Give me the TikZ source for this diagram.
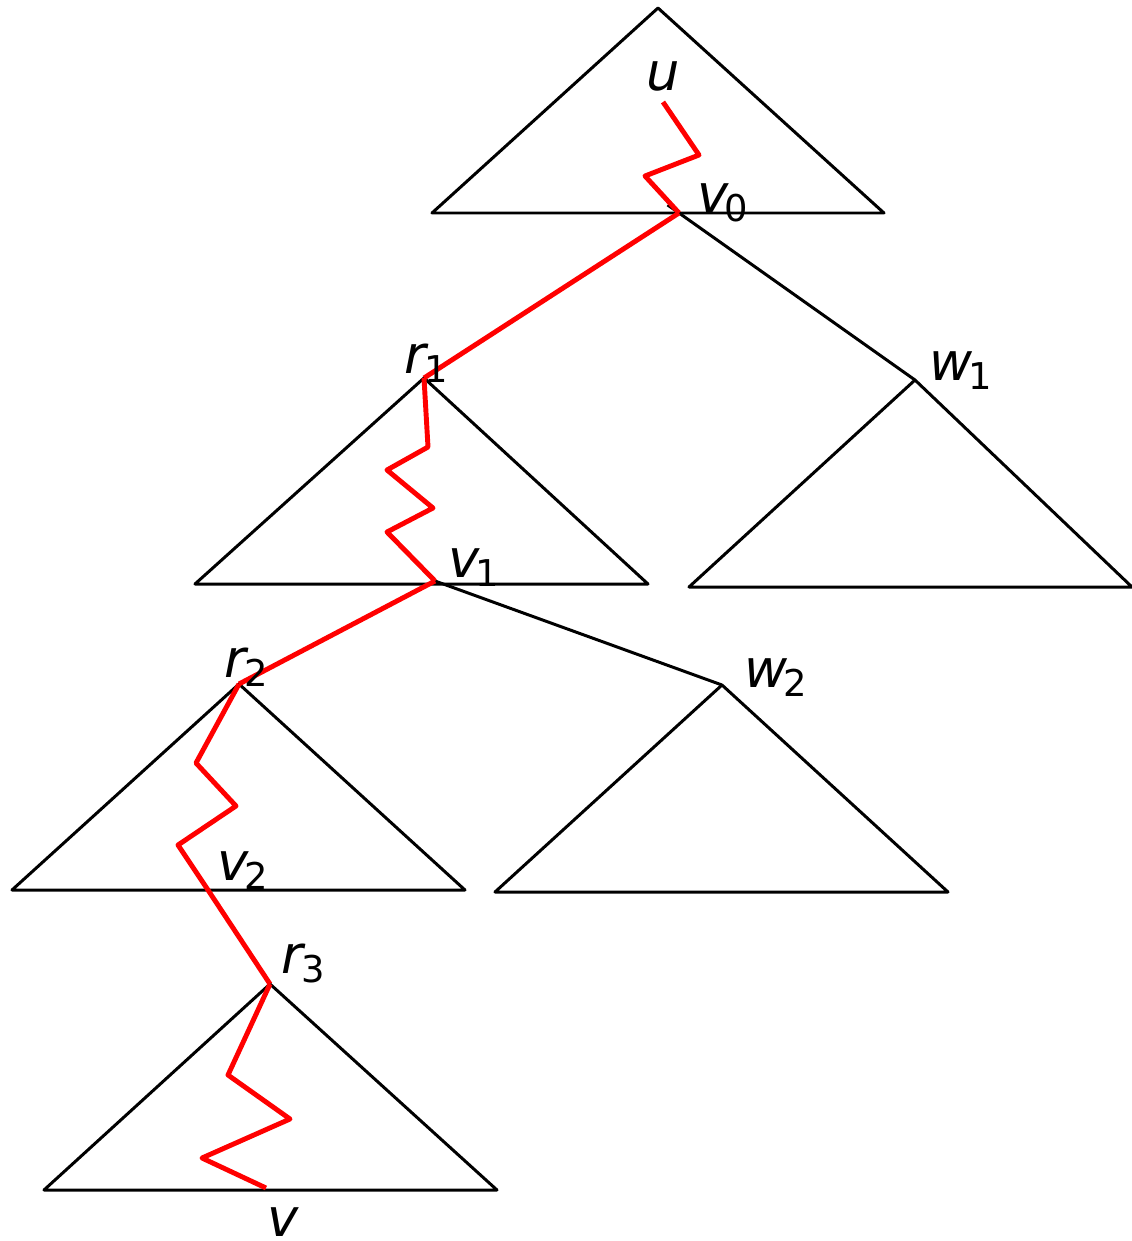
\documentclass[tikz,border=0pt]{standalone}
\usepackage{fontspec}
\setmainfont{DejaVu Sans}
\newcommand{\lbl}[2]{\textit{#1}\kern-0.08em\raisebox{-0.18em}{\fontsize{21}{21}\selectfont #2}}
\begin{document}
\begin{tikzpicture}[x = 0.02cm, y = -0.02cm, tri/.style={draw, line width=1.7pt, line join=round}, edge/.style={draw, line width=1.7pt}, walk/.style={draw=red, line width=2.8pt, line join=round}, lab/.style={anchor=base west, inner sep=0pt, font=\fontsize{30}{34}\selectfont}]
        \useasboundingbox (0, 0) rectangle (1132, 1241);

        % subtree roots
        \coordinate (t0) at (658, 8);
        \coordinate (v0) at (679, 213);
        \coordinate (r1) at (424, 378);
        \coordinate (v1) at (435, 581);
        \coordinate (w1) at (915, 380);
        \coordinate (r2) at (239, 684);
        \coordinate (w2) at (722, 685);
        \coordinate (v2) at (208, 890);
        \coordinate (r3) at (270, 984);
        \coordinate (v) at (266, 1188);
        \coordinate (u) at (663, 102);

        % triangles
        \draw[tri] (t0) -- (432, 213) -- (884, 213) -- cycle;
        \draw[tri] (r1) -- (195, 584) -- (648, 584) -- cycle;
        \draw[tri] (w1) -- (689, 587) -- (1132, 587) -- cycle;
        \draw[tri] (r2) -- (12, 890) -- (465, 890) -- cycle;
        \draw[tri] (w2) -- (495, 892) -- (948, 892) -- cycle;
        \draw[tri] (r3) -- (44, 1190) -- (497, 1190) -- cycle;

        \draw[edge, shorten <=-0.28cm] (v0) -- (w1);
        \draw[edge] (v1) -- (w2);

        % the red walk
        \draw[walk] (u) -- (699, 155) -- (645, 176) -- (v0);
        \draw[walk] (v0) -- (r1);
        \draw[walk] (r1) -- (428, 447) -- (387, 470) -- (433, 508) -- (387, 532) -- (v1);
        \draw[walk] (v1) -- (r2);
        \draw[walk] (r2) -- (196, 763) -- (236, 806) -- (178, 845) -- (v2) -- (r3);
        \draw[walk] (r3) -- (228, 1075) -- (290, 1119) -- (202, 1158) -- (v);

        \node[lab] at (646, 90) (lu) {\textit{u}};
        \node[lab] at (697, 212) (lv0) {\lbl{v}{0}};
        \node[lab] at (404, 373) (lr1) {\lbl{r}{1}};
        \node[lab] at (448, 577) (lv1) {\lbl{v}{1}};
        \node[lab] at (929, 380) (lw1) {\lbl{w}{1}};
        \node[lab] at (224, 677) (lr2) {\lbl{r}{2}};
        \node[lab] at (744, 687) (lw2) {\lbl{w}{2}};
        \node[lab] at (217, 880) (lv2) {\lbl{v}{2}};
        \node[lab] at (281, 973) (lr3) {\lbl{r}{3}};
        \node[lab] at (267, 1236) (lv) {\textit{v}};
\end{tikzpicture}
\end{document}
